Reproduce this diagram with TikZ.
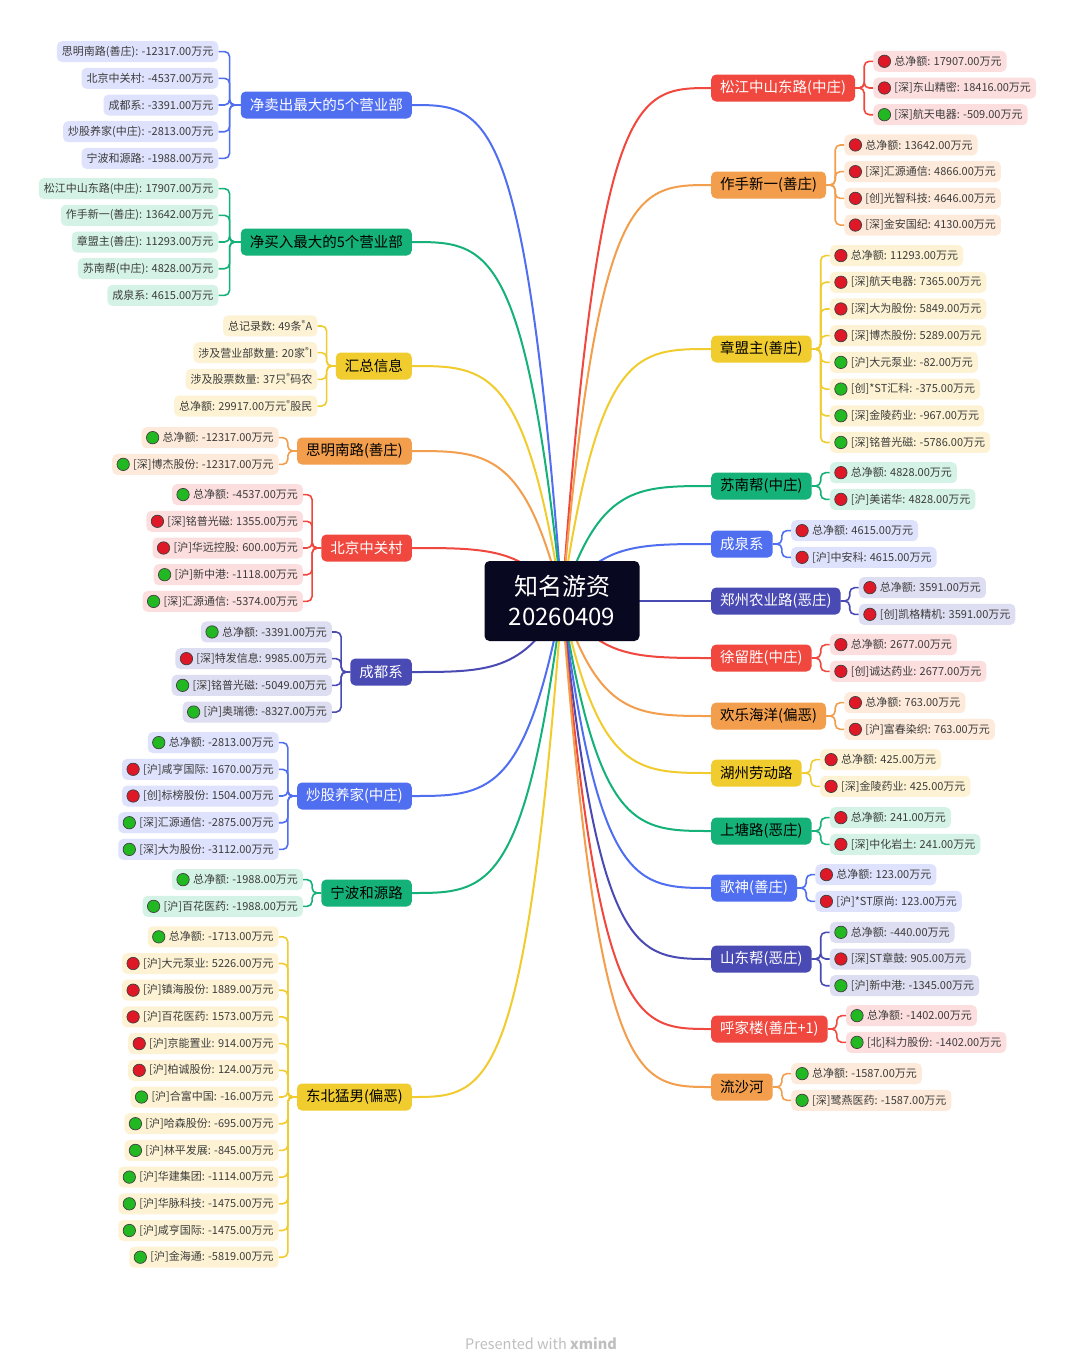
\documentclass[tikz,border=0pt]{standalone}
\usepackage{fontspec}
\setmainfont{Noto Sans CJK SC}
\usetikzlibrary{calc}
\definecolor{rootc}{RGB}{8,8,32}
\definecolor{redB}{RGB}{240,72,62}
\definecolor{redL}{RGB}{252,222,222}
\definecolor{orgB}{RGB}{242,158,76}
\definecolor{orgL}{RGB}{253,234,218}
\definecolor{yelB}{RGB}{240,204,46}
\definecolor{yelL}{RGB}{253,243,212}
\definecolor{grnB}{RGB}{20,178,120}
\definecolor{grnL}{RGB}{212,243,230}
\definecolor{bluB}{RGB}{80,110,240}
\definecolor{bluL}{RGB}{222,226,252}
\definecolor{indB}{RGB}{74,74,180}
\definecolor{indL}{RGB}{222,222,242}
\definecolor{dotred}{RGB}{222,24,38}
\definecolor{dotgrn}{RGB}{34,184,34}
\definecolor{leaftext}{RGB}{60,60,60}

\begin{document}
\begin{tikzpicture}[x=1pt, y=-1pt,
  root/.style={fill=rootc, text=white, rounded corners=5pt, minimum width=155pt,
               minimum height=80pt, align=center, font=\fontsize{24}{30}\selectfont},
  branch/.style={rounded corners=5pt, minimum height=27pt, inner xsep=9pt, inner ysep=2pt,
                 font=\fontsize{14.5}{17}\selectfont},
  leaf/.style={rounded corners=5pt, minimum height=21pt, inner xsep=5pt, inner ysep=1pt,
               text=leaftext, font=\fontsize{11}{12}\selectfont},
  up/.style={leaf, execute at begin node={\kern16pt},
             path picture={\filldraw[fill=dotred, draw=black!75, line width=0.7pt]
               ([xshift=11pt]path picture bounding box.west) circle (6.2pt);}},
  dn/.style={leaf, execute at begin node={\kern16pt},
             path picture={\filldraw[fill=dotgrn, draw=black!75, line width=0.7pt]
               ([xshift=11pt]path picture bounding box.west) circle (6.2pt);}},
  conn/.style={line width=2pt},
  sub/.style={line width=1.6pt, rounded corners=5pt}
]
  \fill[white] (0,0) rectangle (1080,1365);
  \useasboundingbox (0,0) rectangle (1080,1365);
  \coordinate (hub) at (562,601);

  % right side
  \node[branch, fill=redB, text=white, anchor=west] (r1) at (711,88) {松江中山东路(中庄)};
  \node[branch, fill=orgB, anchor=west] (r2) at (711,185) {作手新一(善庄)};
  \node[branch, fill=yelB, anchor=west] (r3) at (711,349) {章盟主(善庄)};
  \node[branch, fill=grnB, anchor=west] (r4) at (711,486) {苏南帮(中庄)};
  \node[branch, fill=bluB, text=white, anchor=west] (r5) at (711,544) {成泉系};
  \node[branch, fill=indB, text=white, anchor=west] (r6) at (711,601) {郑州农业路(恶庄)};
  \node[branch, fill=redB, text=white, anchor=west] (r7) at (711,658) {徐留胜(中庄)};
  \node[branch, fill=orgB, anchor=west] (r8) at (711,716) {欢乐海洋(偏恶)};
  \node[branch, fill=yelB, anchor=west] (r9) at (711,773) {湖州劳动路};
  \node[branch, fill=grnB, anchor=west] (r10) at (711,831) {上塘路(恶庄)};
  \node[branch, fill=bluB, text=white, anchor=west] (r11) at (711,888) {歌神(善庄)};
  \node[branch, fill=indB, text=white, anchor=west] (r12) at (711,959) {山东帮(恶庄)};
  \node[branch, fill=redB, text=white, anchor=west] (r13) at (711,1029) {呼家楼(善庄+1)};
  \node[branch, fill=orgB, anchor=west] (r14) at (711,1087) {流沙河};

  % left side
  \node[branch, fill=bluB, text=white, anchor=east] (l1) at (412,105) {净卖出最大的5个营业部};
  \node[branch, fill=grnB, anchor=east] (l2) at (412,242) {净买入最大的5个营业部};
  \node[branch, fill=yelB, anchor=east] (l3) at (412,366) {汇总信息};
  \node[branch, fill=orgB, anchor=east] (l4) at (412,451) {思明南路(善庄)};
  \node[branch, fill=redB, text=white, anchor=east] (l5) at (412,548) {北京中关村};
  \node[branch, fill=indB, text=white, anchor=east] (l6) at (412,672) {成都系};
  \node[branch, fill=bluB, text=white, anchor=east] (l7) at (412,796) {炒股养家(中庄)};
  \node[branch, fill=grnB, anchor=east] (l8) at (412,893) {宁波和源路};
  \node[branch, fill=yelB, anchor=east] (l9) at (412,1097) {东北猛男(偏恶)};

  % right leaves
  \foreach \txt/\sty [count=\i] in {总净额: 17907.00万元/up, [深]东山精密: 18416.00万元/up,
      [深]航天电器: -509.00万元/dn} {
    \node[\sty, fill=redL, anchor=west] (r1-\i) at ($(r1.east)+(18,{(\i-2)*26.7})$) {\txt};
    \draw[sub, redB] (r1.east) -- ++(9,0) |- (r1-\i.west);
  }
  \foreach \txt/\sty [count=\i] in {总净额: 13642.00万元/up, [深]汇源通信: 4866.00万元/up,
      [创]光智科技: 4646.00万元/up, [深]金安国纪: 4130.00万元/up} {
    \node[\sty, fill=orgL, anchor=west] (r2-\i) at ($(r2.east)+(18,{(\i-2.5)*26.7})$) {\txt};
    \draw[sub, orgB] (r2.east) -- ++(9,0) |- (r2-\i.west);
  }
  \foreach \txt/\sty [count=\i] in {总净额: 11293.00万元/up, [深]航天电器: 7365.00万元/up,
      [深]大为股份: 5849.00万元/up, [深]博杰股份: 5289.00万元/up, [沪]大元泵业: -82.00万元/dn,
      [创]*ST汇科: -375.00万元/dn, [深]金陵药业: -967.00万元/dn, [深]铭普光磁: -5786.00万元/dn} {
    \node[\sty, fill=yelL, anchor=west] (r3-\i) at ($(r3.east)+(18,{(\i-4.5)*26.7})$) {\txt};
    \draw[sub, yelB] (r3.east) -- ++(9,0) |- (r3-\i.west);
  }
  \foreach \txt/\sty [count=\i] in {总净额: 4828.00万元/up, [沪]美诺华: 4828.00万元/up} {
    \node[\sty, fill=grnL, anchor=west] (r4-\i) at ($(r4.east)+(18,{(\i-1.5)*26.7})$) {\txt};
    \draw[sub, grnB] (r4.east) -- ++(9,0) |- (r4-\i.west);
  }
  \foreach \txt/\sty [count=\i] in {总净额: 4615.00万元/up, [沪]中安科: 4615.00万元/up} {
    \node[\sty, fill=bluL, anchor=west] (r5-\i) at ($(r5.east)+(18,{(\i-1.5)*26.7})$) {\txt};
    \draw[sub, bluB] (r5.east) -- ++(9,0) |- (r5-\i.west);
  }
  \foreach \txt/\sty [count=\i] in {总净额: 3591.00万元/up, [创]凯格精机: 3591.00万元/up} {
    \node[\sty, fill=indL, anchor=west] (r6-\i) at ($(r6.east)+(18,{(\i-1.5)*26.7})$) {\txt};
    \draw[sub, indB] (r6.east) -- ++(9,0) |- (r6-\i.west);
  }
  \foreach \txt/\sty [count=\i] in {总净额: 2677.00万元/up, [创]诚达药业: 2677.00万元/up} {
    \node[\sty, fill=redL, anchor=west] (r7-\i) at ($(r7.east)+(18,{(\i-1.5)*26.7})$) {\txt};
    \draw[sub, redB] (r7.east) -- ++(9,0) |- (r7-\i.west);
  }
  \foreach \txt/\sty [count=\i] in {总净额: 763.00万元/up, [沪]富春染织: 763.00万元/up} {
    \node[\sty, fill=orgL, anchor=west] (r8-\i) at ($(r8.east)+(18,{(\i-1.5)*26.7})$) {\txt};
    \draw[sub, orgB] (r8.east) -- ++(9,0) |- (r8-\i.west);
  }
  \foreach \txt/\sty [count=\i] in {总净额: 425.00万元/up, [深]金陵药业: 425.00万元/up} {
    \node[\sty, fill=yelL, anchor=west] (r9-\i) at ($(r9.east)+(18,{(\i-1.5)*26.7})$) {\txt};
    \draw[sub, yelB] (r9.east) -- ++(9,0) |- (r9-\i.west);
  }
  \foreach \txt/\sty [count=\i] in {总净额: 241.00万元/up, [深]中化岩土: 241.00万元/up} {
    \node[\sty, fill=grnL, anchor=west] (r10-\i) at ($(r10.east)+(18,{(\i-1.5)*26.7})$) {\txt};
    \draw[sub, grnB] (r10.east) -- ++(9,0) |- (r10-\i.west);
  }
  \foreach \txt/\sty [count=\i] in {总净额: 123.00万元/up, [沪]*ST原尚: 123.00万元/up} {
    \node[\sty, fill=bluL, anchor=west] (r11-\i) at ($(r11.east)+(18,{(\i-1.5)*26.7})$) {\txt};
    \draw[sub, bluB] (r11.east) -- ++(9,0) |- (r11-\i.west);
  }
  \foreach \txt/\sty [count=\i] in {总净额: -440.00万元/dn, [深]ST章鼓: 905.00万元/up,
      [沪]新中港: -1345.00万元/dn} {
    \node[\sty, fill=indL, anchor=west] (r12-\i) at ($(r12.east)+(18,{(\i-2)*26.7})$) {\txt};
    \draw[sub, indB] (r12.east) -- ++(9,0) |- (r12-\i.west);
  }
  \foreach \txt/\sty [count=\i] in {总净额: -1402.00万元/dn, [北]科力股份: -1402.00万元/dn} {
    \node[\sty, fill=redL, anchor=west] (r13-\i) at ($(r13.east)+(18,{(\i-1.5)*26.7})$) {\txt};
    \draw[sub, redB] (r13.east) -- ++(9,0) |- (r13-\i.west);
  }
  \foreach \txt/\sty [count=\i] in {总净额: -1587.00万元/dn, [深]鹭燕医药: -1587.00万元/dn} {
    \node[\sty, fill=orgL, anchor=west] (r14-\i) at ($(r14.east)+(18,{(\i-1.5)*26.7})$) {\txt};
    \draw[sub, orgB] (r14.east) -- ++(9,0) |- (r14-\i.west);
  }

  % left leaves
  \foreach \txt [count=\i] in {思明南路(善庄): -12317.00万元, 北京中关村: -4537.00万元,
      成都系: -3391.00万元, 炒股养家(中庄): -2813.00万元, 宁波和源路: -1988.00万元} {
    \node[leaf, fill=bluL, anchor=east] (l1-\i) at ($(l1.west)+(-22,{(\i-3)*26.7})$) {\txt};
    \draw[sub, bluB] (l1.west) -- ++(-11,0) |- (l1-\i.east);
  }
  \foreach \txt [count=\i] in {松江中山东路(中庄): 17907.00万元, 作手新一(善庄): 13642.00万元,
      章盟主(善庄): 11293.00万元, 苏南帮(中庄): 4828.00万元, 成泉系: 4615.00万元} {
    \node[leaf, fill=grnL, anchor=east] (l2-\i) at ($(l2.west)+(-22,{(\i-3)*26.7})$) {\txt};
    \draw[sub, grnB] (l2.west) -- ++(-11,0) |- (l2-\i.east);
  }
  \foreach \txt [count=\i] in {总记录数: 49条\textsuperscript{®}A, 涉及营业部数量: 20家\textsuperscript{®}I,
      涉及股票数量: 37只\textsuperscript{®}码农, 总净额: 29917.00万元\textsuperscript{®}股民} {
    \node[leaf, fill=yelL, anchor=east] (l3-\i) at ($(l3.west)+(-18,{(\i-2.5)*26.7})$) {\txt};
    \draw[sub, yelB] (l3.west) -- ++(-9,0) |- (l3-\i.east);
  }
  \foreach \txt/\sty [count=\i] in {总净额: -12317.00万元/dn, [深]博杰股份: -12317.00万元/dn} {
    \node[\sty, fill=orgL, anchor=east] (l4-\i) at ($(l4.west)+(-18,{(\i-1.5)*26.7})$) {\txt};
    \draw[sub, orgB] (l4.west) -- ++(-9,0) |- (l4-\i.east);
  }
  \foreach \txt/\sty [count=\i] in {总净额: -4537.00万元/dn, [深]铭普光磁: 1355.00万元/up,
      [沪]华远控股: 600.00万元/up, [沪]新中港: -1118.00万元/dn, [深]汇源通信: -5374.00万元/dn} {
    \node[\sty, fill=redL, anchor=east] (l5-\i) at ($(l5.west)+(-18,{(\i-3)*26.7})$) {\txt};
    \draw[sub, redB] (l5.west) -- ++(-9,0) |- (l5-\i.east);
  }
  \foreach \txt/\sty [count=\i] in {总净额: -3391.00万元/dn, [深]特发信息: 9985.00万元/up,
      [深]铭普光磁: -5049.00万元/dn, [沪]奥瑞德: -8327.00万元/dn} {
    \node[\sty, fill=indL, anchor=east] (l6-\i) at ($(l6.west)+(-18,{(\i-2.5)*26.7})$) {\txt};
    \draw[sub, indB] (l6.west) -- ++(-9,0) |- (l6-\i.east);
  }
  \foreach \txt/\sty [count=\i] in {总净额: -2813.00万元/dn, [沪]咸亨国际: 1670.00万元/up,
      [创]标榜股份: 1504.00万元/up, [深]汇源通信: -2875.00万元/dn, [深]大为股份: -3112.00万元/dn} {
    \node[\sty, fill=bluL, anchor=east] (l7-\i) at ($(l7.west)+(-18,{(\i-3)*26.7})$) {\txt};
    \draw[sub, bluB] (l7.west) -- ++(-9,0) |- (l7-\i.east);
  }
  \foreach \txt/\sty [count=\i] in {总净额: -1988.00万元/dn, [沪]百花医药: -1988.00万元/dn} {
    \node[\sty, fill=grnL, anchor=east] (l8-\i) at ($(l8.west)+(-18,{(\i-1.5)*26.7})$) {\txt};
    \draw[sub, grnB] (l8.west) -- ++(-9,0) |- (l8-\i.east);
  }
  \foreach \txt/\sty [count=\i] in {总净额: -1713.00万元/dn, [沪]大元泵业: 5226.00万元/up,
      [沪]镇海股份: 1889.00万元/up, [沪]百花医药: 1573.00万元/up, [沪]京能置业: 914.00万元/up,
      [沪]柏诚股份: 124.00万元/up, [沪]合富中国: -16.00万元/dn, [沪]哈森股份: -695.00万元/dn,
      [沪]林平发展: -845.00万元/dn, [沪]华建集团: -1114.00万元/dn, [沪]华脉科技: -1475.00万元/dn,
      [沪]咸亨国际: -1475.00万元/dn, [沪]金海通: -5819.00万元/dn} {
    \node[\sty, fill=yelL, anchor=east] (l9-\i) at ($(l9.west)+(-18,{(\i-7)*26.7})$) {\txt};
    \draw[sub, yelB] (l9.west) -- ++(-9,0) |- (l9-\i.east);
  }

  % curves from the hub
  \foreach \n/\y/\c in {r1/88/redB, r2/185/orgB, r3/349/yelB, r4/486/grnB, r5/544/bluB,
      r6/601/indB, r7/658/redB, r8/716/orgB, r9/773/yelB, r10/831/grnB, r11/888/bluB,
      r12/959/indB, r13/1029/redB, r14/1087/orgB}
    \draw[conn, \c] (hub) .. controls (599,\y) and (636,\y) .. (\n.west);
  \foreach \n/\y/\c in {l1/105/bluB, l2/242/grnB, l3/366/yelB, l4/451/orgB, l5/548/redB,
      l6/672/indB, l7/796/bluB, l8/893/grnB, l9/1097/yelB}
    \draw[conn, \c] (hub) .. controls (525,\y) and (487,\y) .. (\n.east);

  \node[root] (root) at (hub) {知名游资\\20260409};

  \node[text=black!25, font=\fontsize{14.5}{16}\selectfont] (mark) at (541,1344)
    {Presented with \textbf{xmind}};
\end{tikzpicture}
\end{document}
